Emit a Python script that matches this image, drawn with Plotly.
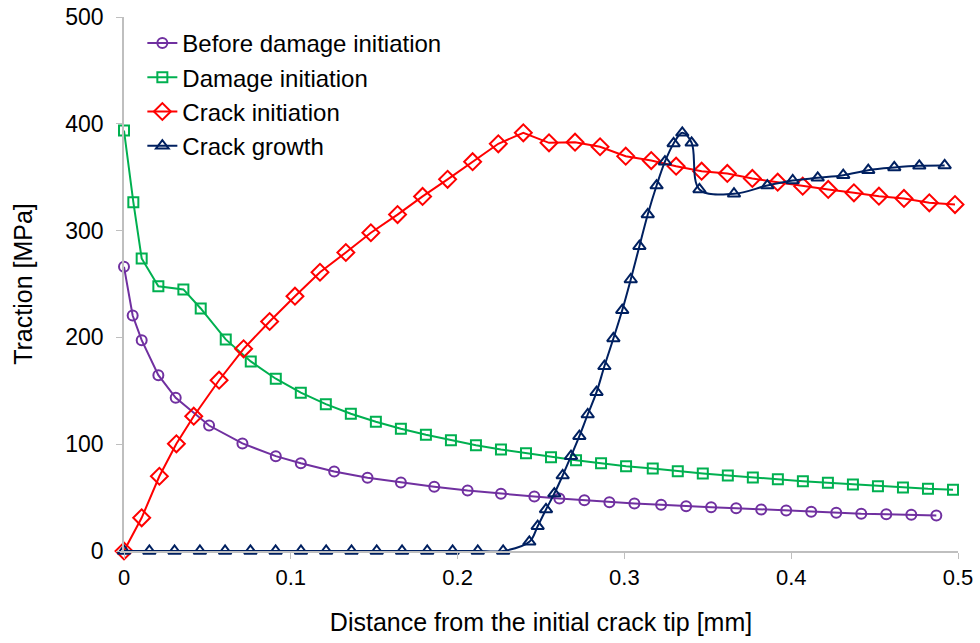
import plotly.graph_objects as go

# Distance from the initial crack tip [mm] and traction [MPa] for each stage
before_x = [0, 0.0052, 0.0106, 0.0206, 0.031, 0.051, 0.071, 0.091, 0.106, 0.126, 0.146,
            0.166, 0.186, 0.206, 0.226, 0.246, 0.261, 0.276, 0.291, 0.306, 0.322, 0.337,
            0.352, 0.367, 0.382, 0.397, 0.412, 0.427, 0.442, 0.457, 0.472, 0.487]
before_y = [266.1, 220.5, 197.4, 164.6, 143.4, 117.5, 100.7, 88.8, 82.2, 74.4, 68.5,
            64.2, 60.1, 56.6, 53.6, 51.0, 49.2, 47.6, 45.7, 44.5, 43.3, 41.9,
            41.0, 40.1, 38.9, 37.9, 36.7, 35.8, 34.8, 34.5, 33.9, 33.2]

damage_x = [0, 0.0056, 0.0106, 0.0206, 0.0356, 0.046, 0.061, 0.076, 0.091, 0.106, 0.121,
            0.136, 0.151, 0.166, 0.181, 0.196, 0.211, 0.226, 0.241, 0.256, 0.271, 0.286,
            0.301, 0.317, 0.332, 0.347, 0.362, 0.377, 0.392, 0.407, 0.422, 0.437, 0.452,
            0.467, 0.482, 0.497]
damage_y = [393.7, 326.6, 273.9, 247.9, 244.9, 227.1, 198.1, 177.5, 161.3, 148.2, 137.5,
            128.5, 121.0, 114.4, 108.8, 103.7, 99.1, 95.0, 91.6, 87.8, 85.0, 82.2,
            79.4, 77.2, 74.7, 72.6, 70.7, 68.8, 67.2, 65.4, 63.9, 62.3, 60.7,
            59.5, 58.2, 57.3]

crack_init_x = [0, 0.0106, 0.0212, 0.0314, 0.0418, 0.057, 0.0717, 0.0873, 0.1025, 0.1175,
                0.133, 0.148, 0.164, 0.179, 0.194, 0.209, 0.2244, 0.2394, 0.2548, 0.2704,
                0.2854, 0.3008, 0.3161, 0.331, 0.3463, 0.3617, 0.3767, 0.3919, 0.4069,
                0.4222, 0.4376, 0.4526, 0.4676, 0.4828, 0.4982]
crack_init_y = [0, 31.1, 70.0, 100.4, 126.2, 159.9, 189.3, 214.9, 238.6, 261.0,
                279.5, 298.0, 315.0, 332.0, 348.0, 364.5, 381.3, 391.6, 382.2, 382.8,
                378.5, 369.7, 365.6, 360.3, 355.6, 353.5, 348.8, 345.3, 341.6,
                338.5, 335.4, 332.2, 330.1, 326.0, 324.4]

growth_x = [0, 0.0152, 0.0303, 0.0455, 0.0606, 0.0758, 0.0909, 0.1061, 0.1212, 0.1364,
            0.1515, 0.1667, 0.1818, 0.197, 0.2121, 0.2273,
            0.243, 0.248, 0.253, 0.258, 0.263, 0.268, 0.273, 0.278, 0.2833, 0.288,
            0.2934, 0.2987, 0.3038, 0.309, 0.314, 0.3193, 0.3243, 0.3295, 0.3347,
            0.3403, 0.345, 0.3657, 0.3857, 0.4009, 0.4159, 0.4312, 0.4462, 0.4618,
            0.4768, 0.492]
growth_y = [0, 0, 0, 0, 0, 0, 0, 0, 0, 0,
            0, 0, 0, 0, 0, 0,
            8.6, 23.2, 38.9, 53.8, 70.7, 88.8, 107.5, 127.8, 148.7, 173.0,
            199.0, 225.5, 254.2, 285.4, 315.1, 342.2, 364.5, 381.6, 391.6,
            382.2, 338.5, 334.5, 342.2, 346.9, 349.4, 351.9, 356.6, 359.1,
            360.7, 361.0]

FONT = "Liberation Sans, Arial, sans-serif"

series = [
    ("Before damage initiation", before_x, before_y, "#7030A0", "circle-open", 10, "linear"),
    ("Damage initiation", damage_x, damage_y, "#00B050", "square-open", 10, "linear"),
    ("Crack initiation", crack_init_x, crack_init_y, "#FF0000", "diamond-open", 13, "linear"),
    ("Crack growth", growth_x, growth_y, "#002060", "triangle-up-open", 11, "spline"),
]

fig = go.Figure()
for i, (name, xs, ys, color, symbol, size, shape) in enumerate(series):
    fig.add_trace(go.Scatter(
        x=xs, y=ys, name=name, mode="lines+markers",
        line=dict(color=color, width=2, shape=shape),
        marker=dict(symbol=symbol, size=size, color=color,
                    line=dict(color=color, width=2)),
        cliponaxis=False, legendgroup=f"g{i}",
    ))

fig.update_layout(
    width=980, height=643,
    margin=dict(l=124, r=22, t=17, b=92),
    paper_bgcolor="white", plot_bgcolor="white",
    font=dict(family=FONT, size=21, color="#000000"),
    showlegend=True,
    legend=dict(x=0.022, y=0.9925, xanchor="left", yanchor="top",
                bgcolor="rgba(0,0,0,0)", font=dict(family=FONT, size=24, color="#000000"),
                tracegroupgap=0, itemwidth=30),
    xaxis=dict(range=[0, 0.5], tickvals=[0, 0.1, 0.2, 0.3, 0.4, 0.5],
               ticktext=["0", "0.1", "0.2", "0.3", "0.4", "0.5"],
               tickfont=dict(family=FONT, size=22, color="#000000"),
               showgrid=False, zeroline=False, showline=True, automargin=False,
               linecolor="#BFBFBF", linewidth=1.5,
               ticks="outside", ticklen=6, tickcolor="#BFBFBF",
               title=dict(text="Distance from the initial crack tip [mm]", standoff=24)),
    yaxis=dict(range=[0, 500], tickvals=[0, 100, 200, 300, 400, 500],
               tickfont=dict(family=FONT, size=23, color="#000000"),
               showgrid=False, zeroline=False, showline=True, automargin=False,
               linecolor="#BFBFBF", linewidth=1.5,
               ticks="outside", ticklen=6, tickcolor="#BFBFBF",
               ticklabelstandoff=8,
               title=dict(text="Traction [MPa]", standoff=26)),
)

fig.write_html("out.html")
